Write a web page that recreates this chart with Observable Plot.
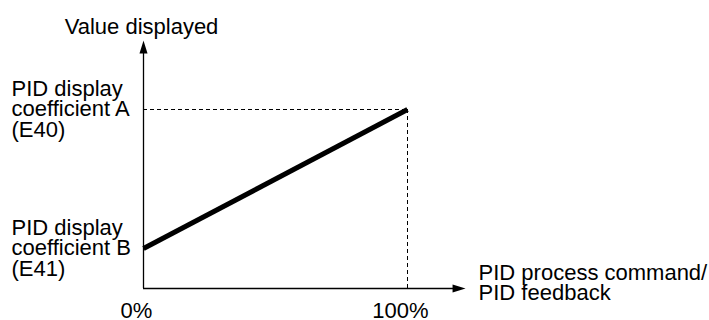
<!DOCTYPE html>
<html><head><meta charset="utf-8">
<script src="https://cdn.jsdelivr.net/npm/d3@7"></script>
<script src="https://cdn.jsdelivr.net/npm/@observablehq/plot@0.6"></script>
<style>html,body{margin:0;padding:0;background:#fff}</style>
</head><body><div id="chart"></div>
<script>
// Data
const xTicks = [0, 100];
const xTickLabels = ["0%", "100%"];
const coefB = 0.223;
const coefA = 1;
const yTicks = [coefB, coefA];
const yTickLabels = ["PID display\ncoefficient B\n(E41)", "PID display\ncoefficient A\n(E40)"];
const lineX = [0, 100];
const lineY = [coefB, coefA];
const xAxisEnd = 122;
const yAxisEnd = 1.385;
const yTitle = "Value displayed";
const xTitle = "PID process command/\nPID feedback";

const lineData = lineX.map((x, i) => ({x, y: lineY[i]}));
const arrowData = [{x: 0, y: yAxisEnd, rot: 0}, {x: xAxisEnd, y: 0, rot: 90}];
const arrowHead = {draw(ctx) { ctx.moveTo(0, 0); ctx.lineTo(-4, 13); ctx.lineTo(4, 13); ctx.closePath(); }};
const FS = 22;

const chart = Plot.plot({
  width: 709, height: 320,
  marginLeft: 143, marginRight: 302, marginTop: 109, marginBottom: 32,
  x: {domain: [0, 100]},
  y: {domain: [0, 1]},
  style: {fontFamily: "'Liberation Sans', Arial, sans-serif", background: "white", color: "black"},
  marks: [
    Plot.ruleX([0], {y1: 0, y2: yAxisEnd - 0.03, strokeWidth: 1.3}),
    Plot.ruleY([0], {x1: 0, x2: xAxisEnd - 2, strokeWidth: 1.3}),
    Plot.ruleY([coefA], {x1: 0, x2: 100, strokeWidth: 1, strokeDasharray: "4,3"}),
    Plot.ruleX([100], {y1: 0, y2: coefA, strokeWidth: 1, strokeDasharray: "4,3"}),
    Plot.line(lineData, {x: "x", y: "y", strokeWidth: 5, strokeLinecap: "butt"}),
    Plot.dot(arrowData, {x: "x", y: "y", rotate: "rot", symbol: arrowHead, r: 5, fill: "black", stroke: "none"}),
    Plot.axisX(xTicks, {tickFormat: d => xTickLabels[xTicks.indexOf(d)], tickSize: 0, tickPadding: 14, dx: -7, fontSize: FS, label: null}),
    Plot.axisY(yTicks, {tickFormat: d => yTickLabels[yTicks.indexOf(d)], tickSize: 0, tickPadding: 0, textAnchor: "start", dx: -132, fontSize: FS, lineHeight: 0.93, label: null}),
    Plot.text([yTitle], {x: 0, y: yAxisEnd, text: d => d, lineAnchor: "bottom", dy: -7, dx: -2, fontSize: FS}),
    Plot.text([xTitle], {x: xAxisEnd, y: 0, text: d => d, textAnchor: "start", lineAnchor: "middle", dx: 13, dy: -4.5, fontSize: FS, lineHeight: 0.91})
  ]
});
document.getElementById("chart").appendChild(chart);
</script>
</body></html>
